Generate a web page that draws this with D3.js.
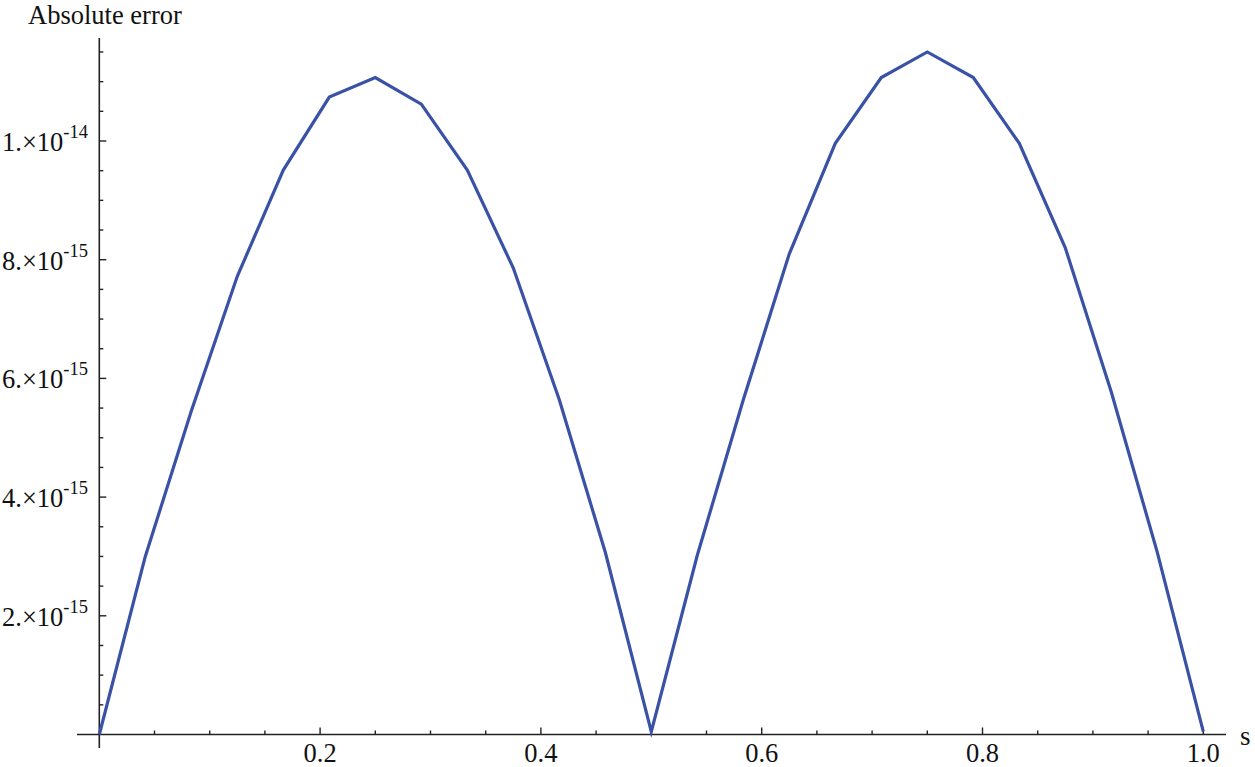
<!DOCTYPE html>
<html><head><meta charset="utf-8">
<script src="https://cdn.jsdelivr.net/npm/d3@7"></script>
<style>
body{margin:0;background:#fff;}
text{font-family:"Liberation Serif","Times New Roman",serif;fill:#111;}
</style></head>
<body><svg id="c" width="1255" height="767"></svg>
<script>
// s values: i/24 for i = 0..24
const sValues = [0,0.041667,0.083333,0.125,0.166667,0.208333,0.25,0.291667,0.333333,0.375,0.416667,0.458333,0.5,
  0.541667,0.583333,0.625,0.666667,0.708333,0.75,0.791667,0.833333,0.875,0.916667,0.958333,1.0];
// absolute error, in units of 1e-15
const errValues = [0,3.0,5.45,7.72,9.51,10.74,11.07,10.62,9.51,7.86,5.64,3.07,0.05,
  3.02,5.64,8.1,9.96,11.07,11.5,11.07,9.96,8.2,5.77,3.07,0.05];
const xMajorTicks = [0.2,0.4,0.6,0.8,1.0];
const xTickLabels = ["0.2","0.4","0.6","0.8","1.0"];
const yMajorTicks = [2,4,6,8,10];
const yTickMantissa = ["2.","4.","6.","8.","1."];
const yTickExponent = ["-15","-15","-15","-15","-14"];

const svg = d3.select("#c");
const x = d3.scaleLinear().domain([0,1]).range([99.3,1203.3]);
const y = d3.scaleLinear().domain([0,10]).range([734.5,141]);
const axisColor = "#222";

// x axis line (extends past origin)
svg.append("line").attr("x1",77).attr("x2",1226).attr("y1",y(0)).attr("y2",y(0))
  .attr("stroke",axisColor).attr("stroke-width",1.6);
// y axis line
svg.append("line").attr("x1",x(0)).attr("x2",x(0)).attr("y1",38).attr("y2",748)
  .attr("stroke",axisColor).attr("stroke-width",1.6);

// x ticks: minor every 0.05
const xMinor = d3.range(1,21).map(i=>i*0.05);
svg.selectAll(".xt").data(xMinor).enter().append("line")
  .attr("x1",d=>x(d)).attr("x2",d=>x(d))
  .attr("y1",y(0)).attr("y2",d=>Math.abs(d*5-Math.round(d*5))<1e-6? y(0)-7 : y(0)-4)
  .attr("stroke",axisColor).attr("stroke-width",1.4);
svg.selectAll(".xl").data(xMajorTicks).enter().append("text")
  .attr("x",d=>x(d)).attr("y",762).attr("text-anchor","middle")
  .attr("font-size",26.5).text((d,i)=>xTickLabels[i]);

// y ticks: minor every 0.5
const yMinor = d3.range(1,24).map(i=>i*0.5);
svg.selectAll(".yt").data(yMinor).enter().append("line")
  .attr("x1",x(0)).attr("x2",d=>Math.abs(d/2-Math.round(d/2))<1e-6? x(0)+7 : x(0)+4)
  .attr("y1",d=>y(d)).attr("y2",d=>y(d))
  .attr("stroke",axisColor).attr("stroke-width",1.4);
const yl = svg.selectAll(".yl").data(yMajorTicks).enter().append("text")
  .attr("x",88).attr("y",d=>y(d)+10).attr("text-anchor","end").attr("font-size",26.5);
yl.append("tspan").text((d,i)=>yTickMantissa[i]+"\u00d710");
yl.append("tspan").attr("font-size",18.5).attr("dy",-13).text((d,i)=>yTickExponent[i]);

// axis labels
svg.append("text").attr("x",28).attr("y",24).attr("font-size",26.5).text("Absolute error");
svg.append("text").attr("x",1240).attr("y",745).attr("font-size",27).text("s");

// data line
const line = d3.line().x((d,i)=>x(sValues[i])).y(d=>y(d));
svg.append("path").datum(errValues).attr("d",line)
  .attr("fill","none").attr("stroke","#3a52a5").attr("stroke-width",3.2)
  .attr("stroke-linejoin","miter");
</script></body></html>
